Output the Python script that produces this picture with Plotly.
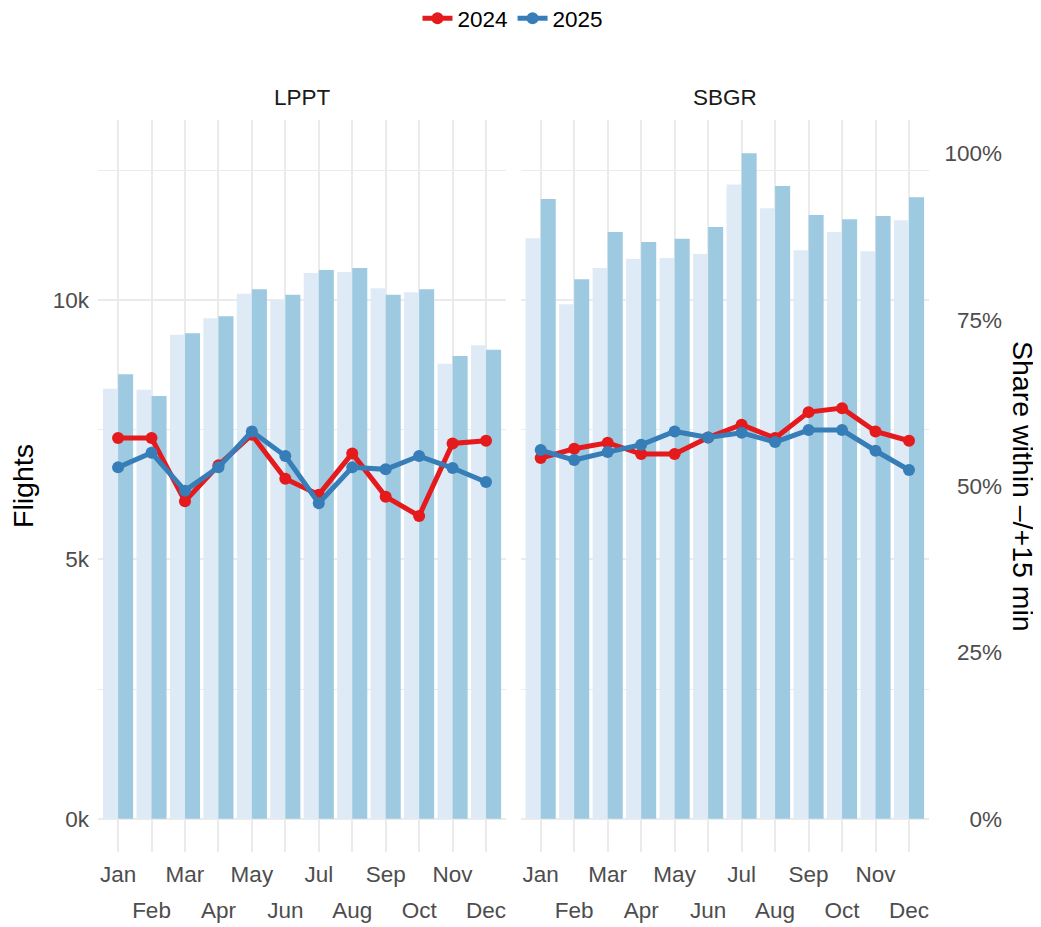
import plotly.graph_objects as go

months = ["Jan", "Feb", "Mar", "Apr", "May", "Jun", "Jul", "Aug", "Sep", "Oct", "Nov", "Dec"]
airports = ["LPPT", "SBGR"]
years = ["2024", "2025"]

# Flights per month
lppt_flights_2024 = [8290, 8270, 9330, 9650, 10120, 10000, 10520, 10540, 10230, 10150, 8770, 9130]
lppt_flights_2025 = [8570, 8150, 9360, 9690, 10210, 10100, 10580, 10620, 10100, 10210, 8920, 9040]
sbgr_flights_2024 = [11190, 9920, 10620, 10790, 10810, 10890, 12230, 11770, 10960, 11310, 10940, 11540]
sbgr_flights_2025 = [11950, 10400, 11310, 11120, 11180, 11410, 12830, 12200, 11640, 11560, 11620, 11980]

# Share of flights within -/+15 min
lppt_share_2024 = [0.572, 0.572, 0.477, 0.531, 0.577, 0.511, 0.487, 0.549, 0.484, 0.455, 0.564, 0.568]
lppt_share_2025 = [0.528, 0.550, 0.493, 0.528, 0.582, 0.545, 0.474, 0.528, 0.525, 0.545, 0.527, 0.506]
sbgr_share_2024 = [0.542, 0.556, 0.565, 0.548, 0.548, 0.573, 0.592, 0.572, 0.611, 0.617, 0.582, 0.568]
sbgr_share_2025 = [0.554, 0.539, 0.551, 0.562, 0.582, 0.573, 0.580, 0.566, 0.584, 0.584, 0.553, 0.524]

flight_ticks = [0, 5000, 10000]
flight_ticktext = ["0k", "5k", "10k"]
flight_minor = [2500, 7500, 12500]
share_ticks = [0, 0.25, 0.5, 0.75, 1.0]
share_ticktext = ["0%", "25%", "50%", "75%", "100%"]

bar_colors = {"2024": "#deebf7", "2025": "#9ecae1"}
line_colors = {"2024": "#e41a1c", "2025": "#377eb8"}

FONT = "Liberation Sans, Arial, sans-serif"
TICK_COL = "#4d4d4d"
GRID = "#ebebeb"

flights = {
    ("LPPT", "2024"): lppt_flights_2024, ("LPPT", "2025"): lppt_flights_2025,
    ("SBGR", "2024"): sbgr_flights_2024, ("SBGR", "2025"): sbgr_flights_2025,
}
shares = {
    ("LPPT", "2024"): lppt_share_2024, ("LPPT", "2025"): lppt_share_2025,
    ("SBGR", "2024"): sbgr_share_2024, ("SBGR", "2025"): sbgr_share_2025,
}

scale = max(max(v) for v in flights.values())
xs = list(range(len(months)))

fig = go.Figure()
bar_x = {"LPPT": "x", "SBGR": "x2"}
line_x = {"LPPT": "x3", "SBGR": "x4"}
for ap in airports:
    for yr in years:
        fig.add_trace(go.Bar(
            x=xs, y=flights[(ap, yr)], xaxis=bar_x[ap], yaxis="y",
            marker=dict(color=bar_colors[yr], line=dict(width=0)),
            showlegend=False, name=yr,
        ))
for ap in airports:
    for yr in years:
        fig.add_trace(go.Scatter(
            x=xs, y=shares[(ap, yr)], xaxis=line_x[ap], yaxis="y3",
            mode="lines+markers", name=yr,
            line=dict(color=line_colors[yr], width=5),
            marker=dict(color=line_colors[yr], size=12),
            showlegend=(ap == "LPPT"), legendgroup=yr,
        ))

# page body has an 8px margin at the top/left; the figure fills the rest of the window
OFF = 8
W, H = 1041 - OFF, 927 - OFF
# plot area in reference pixel coords
L_REF, R_REF, T_REF, B_REF = 98, 1010, 119.5, 852.5
ml, mr, mt, mb = L_REF - OFF, W - (R_REF - OFF), T_REF - OFF, H - (B_REF - OFF)
pw = R_REF - L_REF
ph = B_REF - T_REF

def px(xr):
    return (xr - L_REF) / pw

def py(yr):
    return (B_REF - yr) / ph

dom1 = [0, px(506.1)]
dom2 = [px(520.6), px(929.1)]
xrange_ = [-0.6, len(months) - 1 + 0.6]

odd_text = [m if i % 2 == 0 else "" for i, m in enumerate(months)]
even_vals = [i for i in xs if i % 2 == 1]
even_text = [months[i] for i in even_vals]

tickfont = dict(family=FONT, size=22.5, color=TICK_COL)

def main_x(domain):
    return dict(domain=domain, range=xrange_, anchor="y", tickmode="array",
                tickvals=xs, ticktext=odd_text, showgrid=True, gridcolor=GRID,
                gridwidth=2, zeroline=False, showline=False, ticks="",
                tickfont=tickfont, ticklabelstandoff=6, fixedrange=True,
                automargin=False)

def over_x(base):
    return dict(overlaying=base, range=xrange_, anchor="y3", tickmode="array",
                tickvals=even_vals, ticktext=even_text, showgrid=False,
                zeroline=False, showline=False, ticks="", tickfont=tickfont,
                ticklabelstandoff=42, fixedrange=True, side="bottom",
                automargin=False)

fig.update_layout(
    width=W, height=H,
    margin=dict(l=ml, r=mr, t=mt, b=mb, pad=0, autoexpand=False),
    paper_bgcolor="white", plot_bgcolor="white",
    barmode="group", bargap=0.1, bargroupgap=0,
    font=dict(family=FONT, color="black"),
    xaxis=main_x(dom1),
    xaxis2=main_x(dom2),
    xaxis3=over_x("x"),
    xaxis4=over_x("x2"),
    yaxis=dict(domain=[0, 1], range=[-0.05 * scale, 1.05 * scale], tickmode="array",
               tickvals=flight_ticks, ticktext=flight_ticktext, showgrid=True,
               gridcolor=GRID, gridwidth=2, zeroline=False, showline=False, ticks="",
               tickfont=tickfont, ticklabelstandoff=8,
               minor=dict(tickvals=flight_minor, showgrid=True, gridcolor=GRID, gridwidth=1.2),
               fixedrange=True, automargin=False),
    yaxis3=dict(overlaying="y", side="left", anchor="free",
                position=px(1002), range=[-0.05, 1.05], tickmode="array",
                tickvals=share_ticks, ticktext=share_ticktext, showgrid=False,
                zeroline=False, showline=False, ticks="", tickfont=tickfont,
                fixedrange=True, automargin=False),
    legend=dict(orientation="h", x=px(513), xanchor="center",
                y=py(18), yanchor="middle",
                font=dict(family=FONT, size=22.5, color="black"),
                bgcolor="rgba(0,0,0,0)", itemwidth=30),
    annotations=[
        dict(text="LPPT", x=sum(dom1) / 2, y=py(97), xref="paper", yref="paper",
             showarrow=False, xanchor="center", yanchor="middle",
             font=dict(family=FONT, size=22.5, color="#1a1a1a")),
        dict(text="SBGR", x=sum(dom2) / 2, y=py(97), xref="paper", yref="paper",
             showarrow=False, xanchor="center", yanchor="middle",
             font=dict(family=FONT, size=22.5, color="#1a1a1a")),
        dict(text="Flights", x=px(23), y=py(486), xref="paper", yref="paper",
             showarrow=False, xanchor="center", yanchor="middle", textangle=-90,
             font=dict(family=FONT, size=28.5, color="black")),
        dict(text="Share within –/+15 min", x=px(1023), y=py(486),
             xref="paper", yref="paper", showarrow=False, xanchor="center",
             yanchor="middle", textangle=90,
             font=dict(family=FONT, size=28.5, color="black")),
    ],
)

fig.write_html("out.html")
